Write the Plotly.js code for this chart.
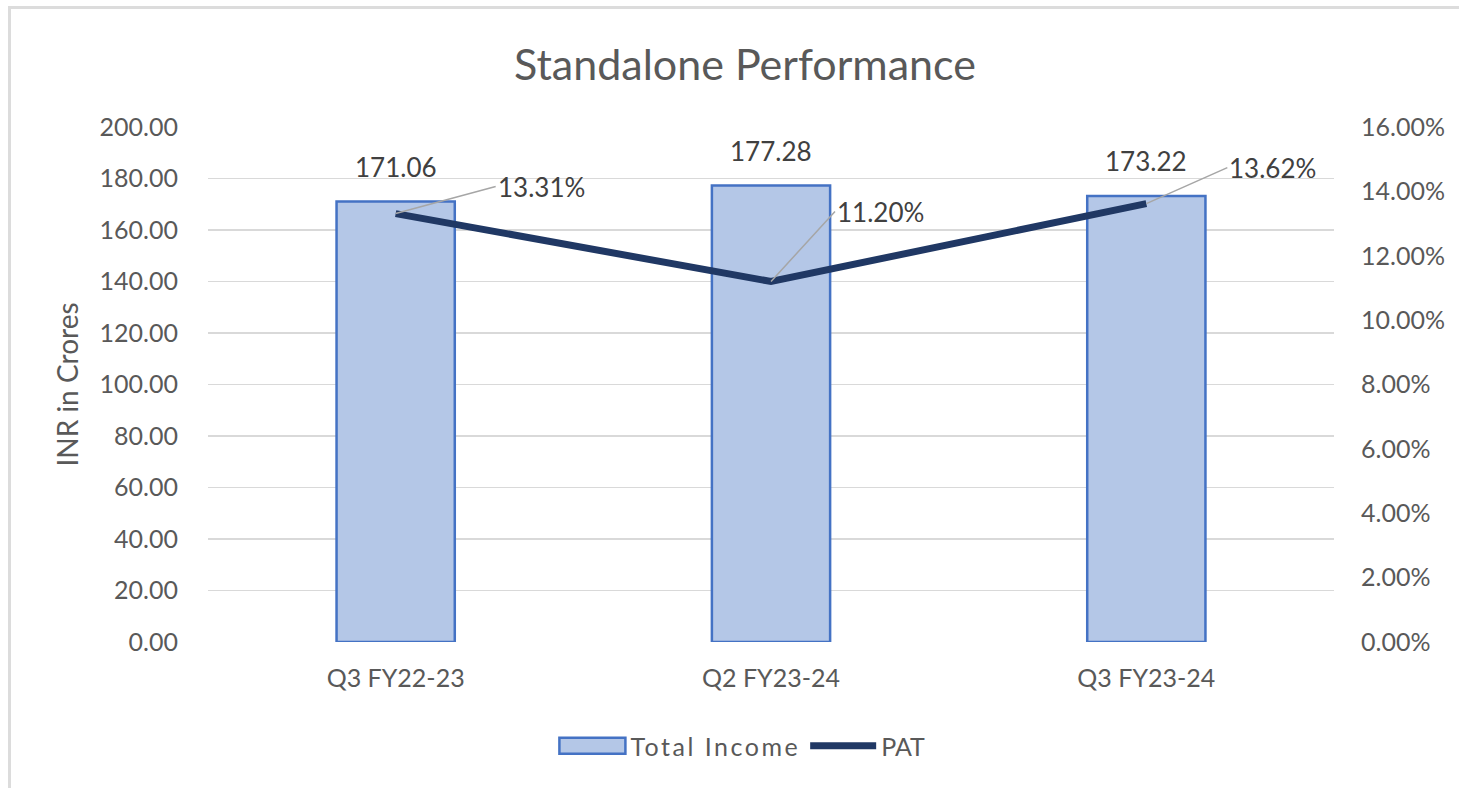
<!DOCTYPE html>
<html>
<head>
<meta charset="utf-8">
<script src="https://cdn.plot.ly/plotly-3.0.1.min.js"></script>
<style>
  html, body { margin: 0; padding: 0; background: #fff; overflow: hidden; }
  #chart { width: 1459px; height: 788px; position: relative; }
  #frame { position: absolute; left: 8px; top: 6px; width: 1451px; height: 782px;
           border-top: 3px solid #dcdcdc; border-left: 3px solid #dcdcdc; pointer-events: none;
           box-sizing: border-box; }
</style>
</head>
<body>
<div id="chart"></div>
<div id="frame"></div>
<script>
const categories = ['Q3 FY22-23', 'Q2 FY23-24', 'Q3 FY23-24'];
const totalIncome = [171.06, 177.28, 173.22];
const patPct = [13.31, 11.20, 13.62];

// label offsets (px) for PAT data-label leader lines
const patLabelOffsets = [[100, -27], [64, -70], [81, -36]];

const FONT = 'Lato, "Open Sans", sans-serif';
const TXT = '#595959';
const LEGEND_ITEM_W = 66;
const LEGEND_CENTER_X = 741;

const traces = [
  {
    type: 'bar', name: 'Total Income', x: categories, y: totalIncome,
    width: 0.315,
    marker: { color: '#b4c7e7', line: { color: '#4472c4', width: 2.5 } },
    hoverinfo: 'x+y'
  },
  {
    type: 'scatter', mode: 'lines', name: 'PAT', x: categories, y: patPct, yaxis: 'y2',
    line: { color: '#203864', width: 7 },
    hoverinfo: 'x+y'
  }
];

const annotations = [];
categories.forEach((c, i) => {
  annotations.push({
    x: c, y: totalIncome[i], xref: 'x', yref: 'y',
    text: totalIncome[i].toFixed(2), showarrow: false,
    yanchor: 'bottom', yshift: 17,
    font: { family: FONT, size: 26, color: '#404040' }
  });
  annotations.push({
    x: c, y: patPct[i], xref: 'x', yref: 'y2',
    text: patPct[i].toFixed(2) + '%', showarrow: true,
    arrowhead: 0, arrowwidth: 1.5, arrowcolor: '#a6a6a6',
    ax: patLabelOffsets[i][0], ay: patLabelOffsets[i][1],
    xanchor: 'left', yanchor: 'middle',
    font: { family: FONT, size: 26, color: '#404040' }
  });
});

const layout = {
  width: 1459, height: 788,
  margin: { l: 208, r: 125, t: 127, b: 146 },
  paper_bgcolor: '#ffffff', plot_bgcolor: '#ffffff',
  font: { family: FONT, color: TXT, size: 25 },
  title: {
    text: 'Standalone Performance',
    xref: 'container', yref: 'container',
    x: 745 / 1459, y: 1 - 65 / 788, xanchor: 'center', yanchor: 'middle',
    font: { family: FONT, size: 43, color: TXT }
  },
  xaxis: {
    type: 'category', range: [-0.5, 2.5],
    showgrid: false, zeroline: false, showline: false,
    ticks: '', ticklabelstandoff: 19,
    tickfont: { family: FONT, size: 25, color: TXT },
    fixedrange: true
  },
  yaxis: {
    range: [0, 200], dtick: 20, tickformat: '.2f',
    showgrid: true, gridcolor: '#d9d9d9', gridwidth: 1.5,
    zeroline: false, showline: false, ticks: '',
    ticklabelstandoff: 29,
    tickfont: { family: FONT, size: 25, color: TXT },
    title: { text: 'INR in Crores', standoff: 12, font: { family: FONT, size: 28, color: TXT } },
    fixedrange: true
  },
  yaxis2: {
    range: [0, 16], dtick: 2, tickformat: '.2f', ticksuffix: '%',
    overlaying: 'y', side: 'right',
    showgrid: false, zeroline: false, showline: false, ticks: '',
    ticklabelstandoff: 26,
    tickfont: { family: FONT, size: 25, color: TXT },
    fixedrange: true
  },
  showlegend: true,
  legend: {
    orientation: 'h', xref: 'container', yref: 'container',
    x: LEGEND_CENTER_X / 1459, y: 1 - 746 / 788, xanchor: 'center', yanchor: 'middle',
    font: { family: FONT, size: 25, color: TXT },
    itemwidth: LEGEND_ITEM_W, tracegroupgap: 0
  },
  annotations: annotations
};

function parseTranslate(el) {
  const t = el.getAttribute('transform') || '';
  const m = t.match(/translate\(\s*([-\d.e]+)[ ,]*([-\d.e]*)\s*\)/);
  return m ? [parseFloat(m[1]), parseFloat(m[2] || '0')] : [0, 0];
}

Plotly.newPlot('chart', traces, layout, { displayModeBar: false, staticPlot: true }).then(gd => {
  const legend = gd.querySelector('g.legend');
  const groups = gd.querySelectorAll('.legend g.traces');
  if (!legend || groups.length < 2) return;
  // let legend content extend past its original clip box
  legend.querySelectorAll('[clip-path]').forEach(el => el.removeAttribute('clip-path'));
  // widen the bar legend swatch to match the line swatch (Excel-style wide rectangle)
  const linePath = groups[1].querySelector('.legendlines path, .legendpoints path');
  const barPath = groups[0].querySelector('.legendpoints path');
  if (linePath && barPath) {
    const lb = linePath.getBBox();
    const x0 = lb.x, x1 = lb.x + lb.width;
    barPath.setAttribute('transform', '');
    barPath.setAttribute('d', `M${x0},8H${x1}V-8H${x0}Z`);
  }
  // spaced-out "Total Income" label, shifting the next item along
  const t0 = groups[0].querySelector('text.legendtext');
  if (t0) {
    const before = t0.getComputedTextLength();
    t0.style.letterSpacing = '2.5px';
    const delta = t0.getComputedTextLength() - before;
    const [gx, gy] = parseTranslate(groups[1]);
    groups[1].setAttribute('transform', `translate(${gx + delta},${gy})`);
  }
  // re-centre the legend
  const inner = legend.querySelector('g.scrollbox') || legend;
  const ib = inner.getBoundingClientRect();
  const center = (ib.left + ib.right) / 2;
  const [lx, ly] = parseTranslate(legend);
  legend.setAttribute('transform', `translate(${lx + (LEGEND_CENTER_X - center)},${ly})`);
  const bg = legend.querySelector('rect.bg');
  if (bg) bg.setAttribute('width', parseFloat(bg.getAttribute('width')) + 40);
});
</script>
</body>
</html>
